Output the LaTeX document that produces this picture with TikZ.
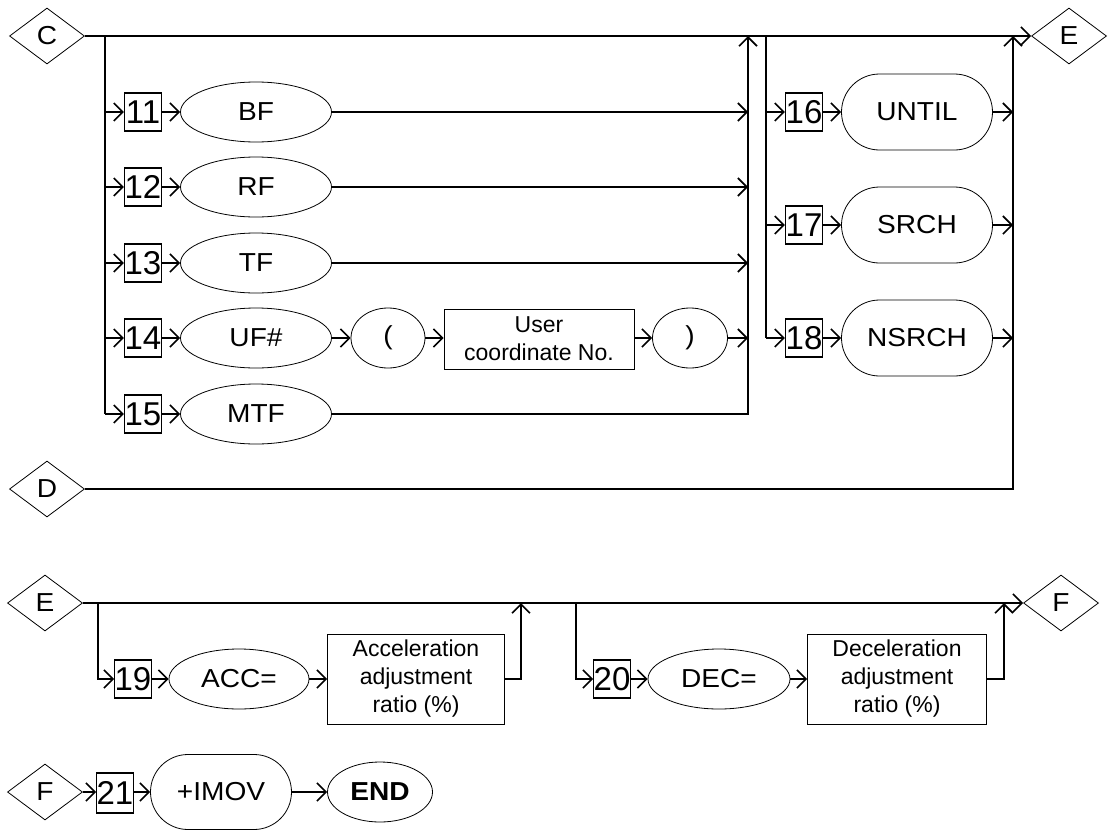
\documentclass[tikz,border=0pt]{standalone}
\usepackage{fontspec}
\setmainfont{Liberation Sans}
\newfontfamily\widefont{Liberation Sans}[FakeStretch=1.08]
\usetikzlibrary{shapes.geometric,shapes.misc,arrows.meta}
\begin{document}
\begin{tikzpicture}[x=1pt,y=-1pt,
  conn/.style={line width=1.6pt},
  arr/.style={conn,-{Straight Barb[length=9pt,width=18pt]}},
  dia/.style={diamond,draw,line width=0.8pt,inner sep=0pt,minimum width=75pt,minimum height=56pt,font=\widefont\fontsize{26}{28}\selectfont},
  num/.style={rectangle,draw,line width=1.2pt,inner sep=0pt,minimum width=37pt,minimum height=38pt,font=\fontsize{33}{33}\selectfont},
  ell/.style={ellipse,draw,line width=0.8pt,inner sep=0pt,minimum width=151pt,minimum height=60pt,font=\widefont\fontsize{26}{28}\selectfont},
  stad/.style={rounded rectangle,draw,line width=0.8pt,inner sep=0pt,minimum width=151pt,minimum height=76pt,font=\widefont\fontsize{26}{28}\selectfont},
  txtbox/.style={rectangle,draw,line width=0.8pt,inner sep=0pt,align=center,font=\fontsize{23}{28}\selectfont}]
\useasboundingbox (0,0) rectangle (1114,830);

% ---------- section 1 ----------
\node[dia] (C) at (47,36) {C};
\node[dia] (E1) at (1069,36) {E};
\node[dia] (D) at (47,489) {D};

\node[num] (n11) at (143,112) {11};
\node[num] (n12) at (143,187) {12};
\node[num] (n13) at (143,263) {13};
\node[num] (n14) at (143,338) {14};
\node[num] (n15) at (143,414) {15};

\node[ell] (e11) at (256,112) {BF};
\node[ell] (e12) at (256,187) {RF};
\node[ell] (e13) at (256,263) {TF};
\node[ell] (e14) at (256,338) {UF\#};
\node[ell] (e15) at (256,414) {MTF};

\node[ell,minimum width=74pt] (po) at (388,338) {(};
\node[txtbox,minimum width=190pt,minimum height=60pt] (ub) at (539,339) {User\\coordinate No.};
\node[ell,minimum width=75pt] (pc) at (690,338) {)};

\node[num] (n16) at (804,112) {16};
\node[num] (n17) at (804,225) {17};
\node[num] (n18) at (804,338) {18};
\node[stad] (s16) at (917,112) {UNTIL};
\node[stad] (s17) at (917,225) {SRCH};
\node[stad] (s18) at (917,338) {NSRCH};

\coordinate (b1) at (105,36);
\coordinate (m1) at (748,36);
\coordinate (b2) at (766,36);
\coordinate (m2) at (1013,36);

\draw[arr] (C.east) -- (E1.west);
\draw[conn] (b1) -- (b1 |- n15);
\foreach \i in {11,12,13,14,15}{
  \draw[arr] (b1 |- n\i) -- (n\i.west);
  \draw[arr] (n\i.east) -- (e\i.west);
}
\draw[arr] (e11.east) -- (e11.east -| m1);
\draw[arr] (e12.east) -- (e12.east -| m1);
\draw[arr] (e13.east) -- (e13.east -| m1);
\draw[arr] (e14.east) -- (po.west);
\draw[arr] (po.east) -- (ub.west |- po);
\draw[arr] (ub.east |- pc) -- (pc.west);
\draw[arr] (pc.east) -- (pc.east -| m1);
\draw[arr] (e15.east) -| (m1);

\draw[conn] (b2) -- (b2 |- n18);
\foreach \i in {16,17,18}{
  \draw[arr] (b2 |- n\i) -- (n\i.west);
  \draw[arr] (n\i.east) -- (s\i.west);
  \draw[arr] (s\i.east) -- (s\i.east -| m2);
}
\draw[arr] (D.east) -| (m2);

% ---------- section 2 ----------
\node[dia] (E2) at (45,603) {E};
\node[dia] (F1) at (1061,603) {F};
\node[num,minimum width=36pt] (n19) at (133,679) {19};
\node[ell,minimum width=140pt] (acc) at (239,679) {ACC=};
\node[txtbox,minimum width=177pt,minimum height=90pt] (accb) at (416,679) {Acceleration\\adjustment\\ratio (\%)};
\node[num,minimum width=36pt] (n20) at (612,679) {20};
\node[ell,minimum width=142pt] (dec) at (719,679) {DEC=};
\node[txtbox,minimum width=179pt,minimum height=90pt] (decb) at (897,679) {Deceleration\\adjustment\\ratio (\%)};

\coordinate (b3) at (98,603);
\coordinate (m3) at (521,603);
\coordinate (b4) at (576,603);
\coordinate (m4) at (1004,603);

\draw[arr] (E2.east) -- (F1.west);
\draw[arr] (b3) |- (n19.west);
\draw[arr] (n19.east) -- (acc.west);
\draw[arr] (acc.east) -- (accb.west);
\draw[arr] (accb.east) -| (m3);
\draw[arr] (b4) |- (n20.west);
\draw[arr] (n20.east) -- (dec.west);
\draw[arr] (dec.east) -- (decb.west);
\draw[arr] (decb.east) -| (m4);

% ---------- section 3 ----------
\node[dia] (F2) at (45,792) {F};
\node[num,minimum width=36pt,minimum height=40pt] (n21) at (115,793) {21};
\node[stad,minimum width=141pt,minimum height=75pt] (imov) at (221,792) {+IMOV};
\node[ell,minimum width=105pt] (end) at (380,792) {\bfseries END};

\draw[arr] (F2.east) -- (n21.west |- F2);
\draw[arr] (n21.east |- imov) -- (imov.west);
\draw[arr] (imov.east) -- (end.west);
\end{tikzpicture}
\end{document}
